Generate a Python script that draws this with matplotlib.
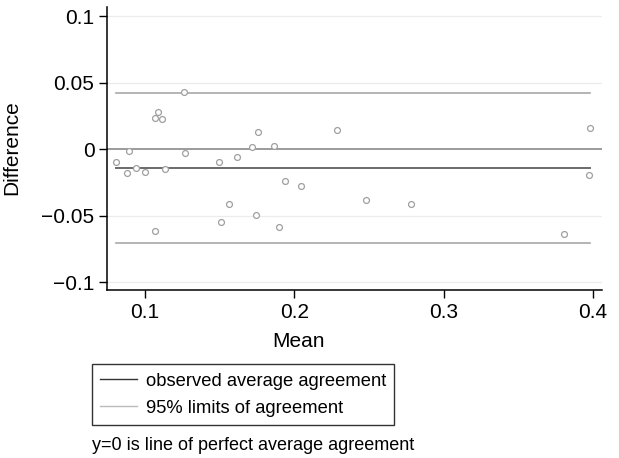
import matplotlib
matplotlib.use("Agg")
import matplotlib.pyplot as plt
from matplotlib.lines import Line2D

plt.rcParams['font.family'] = ['Liberation Sans', 'DejaVu Sans']

mean_vals = [0.0805, 0.0881, 0.0893, 0.0937, 0.1002, 0.1065, 0.1085, 0.1116, 0.1136,
             0.1065, 0.1262, 0.1266, 0.1495, 0.1508, 0.1564, 0.1613, 0.1714, 0.1743,
             0.1754, 0.1862, 0.1900, 0.1936, 0.2043, 0.2287, 0.2478, 0.2780, 0.3803,
             0.3982, 0.3975]
diff_vals = [-0.0095, -0.0183, -0.0015, -0.0140, -0.0170, 0.0233, 0.0283, 0.0226, -0.0148,
             -0.0617, 0.0431, -0.0028, -0.0098, -0.0547, -0.0411, -0.0058, 0.0020, -0.0496,
             0.0128, 0.0025, -0.0586, -0.0243, -0.0280, 0.0143, -0.0381, -0.0414, -0.0642,
             0.0160, -0.0193]
avg_agreement = -0.0143
upper_limit = 0.0423
lower_limit = -0.0707
xticks = [0.1, 0.2, 0.3, 0.4]
yticks = [-0.1, -0.05, 0, 0.05, 0.1]
yticklabels = ['\u22120.1', '\u22120.05', '0', '0.05', '0.1']

fig = plt.figure(figsize=(6.19, 4.58), dpi=100)
ax = fig.add_axes([107/619, 1-290/458, (602-107)/619, (290-7)/458])

ax.set_xlim(0.0745, 0.406)
ax.set_ylim(-0.106, 0.107)

for y in [-0.1, -0.05, 0.05, 0.1]:
    ax.axhline(y, color='#ececec', lw=0.9, zorder=0)
ax.axhline(0, color='#8a8a8a', lw=1.2, zorder=1)

xmin, xmax = min(mean_vals), max(mean_vals)
ax.plot([xmin, xmax], [avg_agreement]*2, color='#6a6a6a', lw=1.4, zorder=2)
ax.plot([xmin, xmax], [upper_limit]*2, color='#a8a8a8', lw=1.2, zorder=2)
ax.plot([xmin, xmax], [lower_limit]*2, color='#a8a8a8', lw=1.2, zorder=2)

ax.scatter(mean_vals, diff_vals, s=18, facecolors='white', edgecolors='#a0a0a0',
           linewidths=0.9, zorder=3)

ax.set_xticks(xticks)
ax.set_xticklabels([str(t) for t in xticks])
ax.set_yticks(yticks)
ax.set_yticklabels(yticklabels)
ax.tick_params(axis='both', direction='out', length=6, width=1, labelsize=15, color='black', pad=3)
for s in ['top', 'right']:
    ax.spines[s].set_visible(False)
for s in ['left', 'bottom']:
    ax.spines[s].set_linewidth(1.1)

fig.text(299/619, 1-341.7/458, 'Mean', ha='center', va='center', fontsize=15)
fig.text(12/619, 1-148/458, 'Difference', ha='center', va='center', rotation=90, fontsize=15)

handles = [Line2D([0], [0], color='#333333', lw=1.0),
           Line2D([0], [0], color='#bbbbbb', lw=1.0)]
leg = fig.legend(handles, ['observed average agreement', '95% limits of agreement'],
                 loc='upper left', bbox_to_anchor=(91.7/619, 1-364.3/458),
                 frameon=True, fancybox=False, fontsize=13.2, handlelength=2.0,
                 handletextpad=0.5, borderpad=0.45, labelspacing=0.55,
                 borderaxespad=0, edgecolor='black')
leg.get_frame().set_linewidth(1.0)

fig.text(91.7/619, 1-445.7/458, 'y=0 is line of perfect average agreement',
         ha='left', va='center', fontsize=13)

fig.savefig('out.png', dpi=100)
